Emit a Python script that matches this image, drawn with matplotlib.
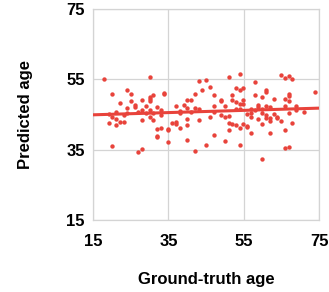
import matplotlib
matplotlib.use('Agg')
import matplotlib.pyplot as plt

plt.rcParams['font.family'] = ['Liberation Sans', 'DejaVu Sans']

# ground-truth vs predicted age
true_age = [18.0, 20.0, 19.1, 19.1, 20.0, 20.0, 21.1, 21.1, 21.1, 22.1, 22.1, 23.1, 23.1, 24.0, 24.0,
            24.0, 25.0, 25.0, 26.0, 26.0, 27.0, 27.0, 28.0, 28.0, 28.0, 28.0, 29.0, 29.0, 30.0, 30.0,
            30.0, 30.0, 30.0, 30.0, 31.0, 31.0, 31.0, 32.0, 32.0, 32.0, 32.0, 33.0, 33.0, 33.0, 33.9,
            33.9, 35.0, 35.0, 35.0,
            36.0, 37.0, 37.0, 37.0, 38.0, 38.0, 38.0, 39.0, 40.0, 40.0, 40.0, 40.0, 40.0, 41.0, 41.0,
            42.0, 42.0, 42.0, 43.0, 43.0, 43.0, 44.0, 45.0, 45.0, 46.0, 46.0, 47.0, 47.0, 47.0, 47.0,
            49.0, 49.0, 49.0, 50.0, 50.0, 50.0, 51.0, 51.0, 51.0, 51.0, 52.0, 52.0, 52.0, 53.0, 53.0,
            53.0, 53.0, 54.0, 54.0, 54.0, 54.0, 54.0, 54.0, 54.9, 54.9, 54.9, 54.9,
            55.9, 55.9, 55.9, 56.9, 56.9, 56.9, 56.9, 57.9, 57.9, 57.9, 58.9, 58.9, 58.9, 59.9, 59.9,
            59.9, 59.9, 59.9, 60.9, 60.9, 60.9, 60.9, 60.9, 61.9, 61.9, 61.9, 61.9, 62.9, 62.9, 63.9,
            63.9, 64.9, 64.9, 65.9, 65.9, 65.9, 65.9, 65.9, 66.9, 66.9, 66.9, 66.9, 66.9, 66.9, 67.9,
            67.9, 68.9, 68.9, 70.9, 73.9]
pred_age = [55.0, 50.7, 45.2, 42.5, 44.4, 36.1, 45.8, 43.7, 42.0, 48.3, 42.8, 42.8, 44.9, 52.0, 46.8,
            45.4, 50.7, 48.7, 47.6, 47.1, 34.2, 45.8, 49.2, 46.3, 43.3, 35.3, 47.3, 45.4, 55.6, 50.1,
            49.3, 48.9, 46.3, 44.4, 50.5, 45.4, 43.3, 47.0, 40.8, 38.8, 38.5, 46.3, 44.9, 41.1, 51.0,
            50.8, 40.8, 40.5, 37.1,
            42.7, 47.3, 42.8, 42.2, 46.1, 45.4, 41.1, 47.7, 49.0, 46.8, 43.7, 42.0, 37.8, 49.0, 45.6,
            50.8, 46.8, 34.5, 54.5, 46.5, 43.5, 52.0, 54.8, 36.3, 52.9, 44.4, 50.5, 47.5, 45.6, 39.2,
            49.2, 48.8, 44.9, 47.3, 44.2, 37.4, 55.6, 44.7, 42.7, 40.7, 50.5, 49.0, 42.4, 52.5, 48.5,
            46.6, 42.0, 56.4, 52.1, 48.0, 46.5, 41.1, 36.2, 52.6, 49.2, 47.9, 42.2,
            45.2, 41.6, 41.3, 46.5, 45.4, 44.2, 39.7, 54.2, 50.6, 46.3, 47.6, 47.1, 43.7, 50.1, 42.4,
            32.4, 46.5, 45.4, 52.0, 51.4, 47.3, 44.9, 44.0, 47.1, 43.9, 43.0, 39.7, 49.4, 45.1, 44.2,
            43.9, 56.2, 43.0, 55.3, 49.5, 47.3, 40.5, 35.5, 55.9, 50.8, 50.3, 48.9, 45.4, 35.7, 55.2,
            42.7, 47.5, 46.3, 45.6, 51.4]

fit_x = [15, 75]
fit_y = [44.9, 46.8]

ticks = [15, 35, 55, 75]
red = '#e8433b'

fig = plt.figure(figsize=(3.29, 2.92), dpi=100)
ax = fig.add_axes([0.283, 0.247, 0.687, 0.722])

ax.scatter(true_age, pred_age, s=10, color=red, linewidths=0, zorder=3)
ax.plot(fit_x, fit_y, color=red, lw=2.2, zorder=4)

ax.set_xlim(15, 75)
ax.set_ylim(15, 75)
ax.set_xticks(ticks)
ax.set_yticks(ticks)
ax.grid(True, color='#d4d4d4', lw=0.9)
ax.set_axisbelow(True)
for s in ax.spines.values():
    s.set_color('#d4d4d4')
    s.set_linewidth(0.9)
ax.tick_params(length=0, labelsize=12, pad=6)
for lab in ax.get_xticklabels() + ax.get_yticklabels():
    lab.set_fontweight('bold')
ax.tick_params(axis='x', pad=10)

ax.set_xlabel('Ground-truth age', fontsize=12, fontweight='bold', labelpad=17)
ax.set_ylabel('Predicted age', fontsize=12, fontweight='bold', labelpad=24)

fig.savefig('out.png', dpi=100)
